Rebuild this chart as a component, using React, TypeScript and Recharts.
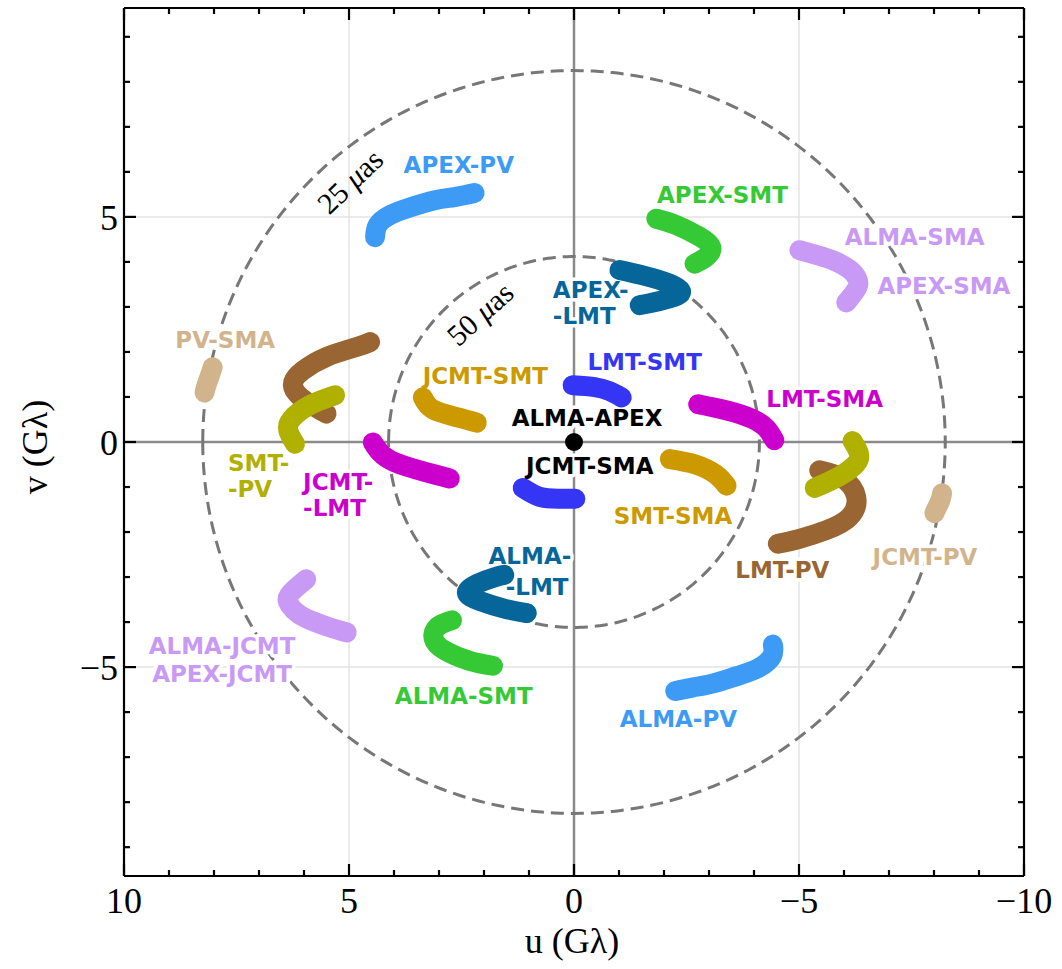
import React from 'react';
import { ComposedChart, XAxis, YAxis, Scatter, ReferenceLine, ReferenceDot } from 'recharts';

// ---------------- data: (u, v) in Gλ ----------------
type P = [number, number];

const APEX_PV: P[] = [[4.42, 4.55], [4.36, 4.82], [4.09, 5.04], [3.65, 5.21], [3.09, 5.37], [2.65, 5.44], [2.21, 5.53]];
const ALMA_PV: P[] = [[-4.42, -4.5], [-4.4, -4.76], [-4.1, -5.02], [-3.62, -5.2], [-3.1, -5.36], [-2.65, -5.45], [-2.25, -5.53]];
const APEX_SMT: P[] = [[-1.83, 4.96], [-2.27, 4.82], [-2.79, 4.56], [-3.05, 4.33], [-2.94, 4.11], [-2.68, 3.96]];
const ALMA_SMT: P[] = [[1.8, -4.97], [2.32, -4.86], [2.87, -4.63], [3.12, -4.36], [3.03, -4.1], [2.71, -3.96]];
const APEX_LMT: P[] = [[-1.01, 3.82], [-1.53, 3.7], [-2.12, 3.52], [-2.38, 3.33], [-2.12, 3.19], [-1.68, 3.08], [-1.46, 3.04]];
const ALMA_LMT: P[] = [[1.05, -3.8], [1.55, -3.7], [2.1, -3.53], [2.38, -3.35], [2.15, -3.15], [1.75, -3.0], [1.55, -2.95]];
const ALMA_SMA: P[] = [[-5.01, 4.26], [-5.4, 4.15], [-5.74, 4.04], [-6.1, 3.85], [-6.28, 3.66], [-6.3, 3.44], [-6.05, 3.1]];
const ALMA_JCMT: P[] = [[5.05, -4.23], [5.42, -4.12], [5.76, -4.0], [6.12, -3.82], [6.32, -3.62], [6.33, -3.4], [5.95, -3.05]];
const PV_SMA: P[] = [[8.03, 1.66], [8.1, 1.45], [8.17, 1.25], [8.21, 1.1]];
const JCMT_PV: P[] = [[-8.18, -1.14], [-8.14, -1.3], [-8.07, -1.45], [-8.01, -1.58]];
const LMT_PV_UP: P[] = [[4.53, 2.22], [4.83, 2.11], [5.5, 1.89], [6.02, 1.59], [6.24, 1.33], [6.16, 1.08], [5.87, 0.85], [5.5, 0.63]];
const LMT_PV_LO: P[] = [[-5.45, -0.63], [-5.97, -0.81], [-6.27, -1.22], [-6.12, -1.67], [-5.6, -1.96], [-5.01, -2.15], [-4.53, -2.26]];
const SMT_PV_UP: P[] = [[5.31, 1.04], [5.87, 0.82], [6.27, 0.52], [6.35, 0.26], [6.2, -0.04]];
const SMT_PV_LO: P[] = [[-6.19, 0.02], [-6.33, -0.25], [-6.27, -0.48], [-5.9, -0.76], [-5.35, -1.02]];
const JCMT_LMT: P[] = [[4.47, -0.01], [4.31, -0.23], [3.98, -0.45], [3.36, -0.65], [2.76, -0.81]];
const LMT_SMA: P[] = [[-4.45, 0.04], [-4.28, 0.3], [-3.95, 0.52], [-3.4, 0.7], [-2.76, 0.84]];
const JCMT_SMT: P[] = [[3.36, 0.99], [3.13, 0.72], [2.6, 0.55], [2.16, 0.43]];
const SMT_SMA: P[] = [[-2.13, -0.38], [-2.7, -0.5], [-3.15, -0.72], [-3.39, -0.97]];
const LMT_SMT_UP: P[] = [[0.03, 1.26], [-0.46, 1.22], [-0.79, 1.13], [-1.06, 0.99]];
const LMT_SMT_LO: P[] = [[1.14, -1.02], [0.76, -1.22], [0.35, -1.26], [-0.03, -1.26]];
const ALMA_APEX: P[] = [[0, 0]];

// radii of the dashed resolution rings (Gλ): 25 μas and 50 μas
const RING_RADII = [8.25, 4.12];

// tick values
const X_TICKS = [10, 9, 8, 7, 6, 5, 4, 3, 2, 1, 0, -1, -2, -3, -4, -5, -6, -7, -8, -9, -10];
const Y_TICKS = [-9, -8, -7, -6, -5, -4, -3, -2, -1, 0, 1, 2, 3, 4, 5, 6, 7, 8, 9];
const GRID_VALUES = [-5, 5];

// baseline labels: text, anchor position (u, v) in Gλ, colour group
const LABEL_TEXT = ['APEX-PV', 'APEX-SMT', 'ALMA-SMA', 'APEX-SMA', 'APEX-\n-LMT', 'PV-SMA', 'JCMT-SMT', 'LMT-SMT', 'ALMA-APEX', 'LMT-SMA', 'JCMT-SMA', 'SMT-\n-PV', 'JCMT-\n-LMT', 'SMT-SMA', 'JCMT-PV', 'LMT-PV', 'ALMA-', '-LMT', 'ALMA-JCMT', 'APEX-JCMT', 'ALMA-SMT', 'ALMA-PV'];
const LABEL_U = [2.56, -3.3, -7.57, -8.22, 0.47, 7.75, 1.97, -1.57, -0.29, -5.57, -0.35, 7.69, 6.02, -2.2, -7.8, -4.63, 0.98, 0.82, 7.82, 7.82, 2.45, -2.32];
const LABEL_V = [6.16, 5.5, 4.56, 3.48, 3.38, 2.27, 1.48, 1.79, 0.53, 0.96, -0.53, -0.47, -0.88, -1.63, -2.54, -2.83, -2.52, -3.22, -4.53, -5.15, -5.63, -6.15];
const LABEL_GROUP = ['pv', 'smt', 'sma', 'sma', 'lmt', 'tan', 'gold', 'blue', 'black', 'mag', 'black', 'olive', 'mag', 'gold', 'tan', 'brown', 'lmt', 'lmt', 'sma', 'sma', 'smt', 'pv'];
const LABEL_ANCHOR = ['middle', 'middle', 'middle', 'middle', 'start', 'middle', 'middle', 'middle', 'middle', 'middle', 'middle', 'start', 'start', 'middle', 'middle', 'middle', 'middle', 'middle', 'middle', 'middle', 'middle', 'middle'];

// ring annotations
const RING_NUM = ['25', '50'];
const RING_U = [4.98, 2.09];
const RING_V = [5.79, 2.85];
const RING_ANGLE = [-44, -42];

// ---------------- styles ----------------
const COLORS: Record<string, string> = {
  pv: '#3d9bf5',
  smt: '#36c936',
  lmt: '#066699',
  sma: '#c99af5',
  tan: '#d2b48c',
  gold: '#cc9900',
  blue: '#3535f5',
  black: '#000000',
  mag: '#cc00cc',
  olive: '#b0b000',
  brown: '#996633',
};

const TRACKS: { pts: P[]; group: string }[] = [
  { pts: APEX_PV, group: 'pv' },
  { pts: ALMA_PV, group: 'pv' },
  { pts: APEX_SMT, group: 'smt' },
  { pts: ALMA_SMT, group: 'smt' },
  { pts: ALMA_SMA, group: 'sma' },
  { pts: ALMA_JCMT, group: 'sma' },
  { pts: PV_SMA, group: 'tan' },
  { pts: JCMT_PV, group: 'tan' },
  { pts: LMT_PV_UP, group: 'brown' },
  { pts: LMT_PV_LO, group: 'brown' },
  { pts: SMT_PV_UP, group: 'olive' },
  { pts: SMT_PV_LO, group: 'olive' },
  { pts: JCMT_LMT, group: 'mag' },
  { pts: LMT_SMA, group: 'mag' },
  { pts: JCMT_SMT, group: 'gold' },
  { pts: SMT_SMA, group: 'gold' },
  { pts: LMT_SMT_UP, group: 'blue' },
  { pts: LMT_SMT_LO, group: 'blue' },
  { pts: APEX_LMT, group: 'lmt' },
  { pts: ALMA_LMT, group: 'lmt' },
];

const SERIF = "'Liberation Serif', 'DejaVu Serif', serif";
const SANS = "'DejaVu Sans', 'Noto Sans', sans-serif";
const LINE_GAP = 26;

const toData = (pts: P[]) => pts.map(([u, v]) => ({ u, v }));

// geometric reference ring (constant radius) sampled for the dashed circle
const ringData = (r: number) =>
  Array.from({ length: 361 }, (_, i) => {
    const a = (i / 360) * 2 * Math.PI;
    return { u: r * Math.cos(a), v: r * Math.sin(a) };
  });

const labelData = LABEL_TEXT.map((text, i) => ({
  u: LABEL_U[i],
  v: LABEL_V[i],
  text,
  color: COLORS[LABEL_GROUP[i]],
  anchor: LABEL_ANCHOR[i],
}));
const ringLabelData = RING_NUM.map((num, i) => ({ u: RING_U[i], v: RING_V[i], num, angle: RING_ANGLE[i] }));

const fmt = (v: number) => (v < 0 ? '\u2212' + Math.abs(v) : String(v));
const isMajor = (v: number) => Math.abs(v) % 5 === 0;

const BottomTick = (p: any) => {
  const v = p.payload.value;
  const len = isMajor(v) ? 12 : 6;
  return (
    <g>
      <line x1={p.x} y1={p.y} x2={p.x} y2={p.y - len} stroke="#000" strokeWidth={2.2} />
      {isMajor(v) && (
        <text x={p.x} y={p.y + 37} textAnchor="middle" fontFamily={SERIF} fontSize={36} fill="#000">
          {fmt(v)}
        </text>
      )}
    </g>
  );
};

const TopTick = (p: any) => {
  const v = p.payload.value;
  const len = isMajor(v) ? 12 : 6;
  return <line x1={p.x} y1={p.y} x2={p.x} y2={p.y + len} stroke="#000" strokeWidth={2.2} />;
};

const LeftTick = (p: any) => {
  const v = p.payload.value;
  const len = isMajor(v) ? 12 : 6;
  return (
    <g>
      <line x1={p.x} y1={p.y} x2={p.x + len} y2={p.y} stroke="#000" strokeWidth={2.2} />
      {isMajor(v) && (
        <text x={p.x - 6} y={p.y + 13} textAnchor="end" fontFamily={SERIF} fontSize={36} fill="#000">
          {fmt(v)}
        </text>
      )}
    </g>
  );
};

const RightTick = (p: any) => {
  const v = p.payload.value;
  const len = isMajor(v) ? 12 : 6;
  return <line x1={p.x} y1={p.y} x2={p.x - len} y2={p.y} stroke="#000" strokeWidth={2.2} />;
};

const XLabel = (props: any) => {
  const vb = props.viewBox;
  return (
    <text x={vb.x + vb.width / 2 - 2} y={vb.y + 77} textAnchor="middle" fontFamily={SERIF} fontSize={36} fill="#000">
      u (Gλ)
    </text>
  );
};

const YLabel = (props: any) => {
  const vb = props.viewBox;
  const x = vb.x + 47;
  const y = vb.y + vb.height / 2 + 5;
  return (
    <text x={x} y={y} transform={`rotate(-90 ${x} ${y})`} textAnchor="middle" fontFamily={SERIF} fontSize={36} fill="#000">
      v (Gλ)
    </text>
  );
};

const LabelShape = (p: any) => {
  const lines: string[] = String(p.payload.text).split('\n');
  return (
    <text
      x={p.cx}
      y={p.cy}
      textAnchor={p.payload.anchor}
      fontFamily={SANS}
      fontWeight="bold"
      fontSize={23}
      fill={p.payload.color}
      stroke="#ffffff"
      strokeWidth={7}
      strokeLinejoin="round"
      paintOrder="stroke"
    >
      {lines.map((l, i) => (
        <tspan key={i} x={p.cx} dy={i === 0 ? '0.36em' : LINE_GAP}>
          {l}
        </tspan>
      ))}
    </text>
  );
};

const RingLabelShape = (p: any) => (
  <text
    x={p.cx}
    y={p.cy}
    dy="0.35em"
    textAnchor="middle"
    fontFamily={SERIF}
    fontSize={30}
    fill="#000"
    transform={`rotate(${p.payload.angle} ${p.cx} ${p.cy})`}
  >
    {p.payload.num + ' '}
    <tspan fontStyle="italic">μ</tspan>
    as
  </text>
);

const NoShape = () => <g />;

export default function App() {
  return (
    <div style={{ position: 'absolute', left: 0, top: 0, width: 1062, height: 969, background: '#fff' }}>
      <ComposedChart width={1062} height={969} margin={{ top: 7, right: 37, bottom: 0, left: 0 }}>
        <XAxis
          xAxisId={0}
          dataKey="u"
          type="number"
          domain={[-10, 10]}
          reversed
          ticks={X_TICKS}
          interval={0}
          allowDataOverflow
          tickSize={0}
          tickMargin={0}
          height={93}
          axisLine={{ stroke: '#000', strokeWidth: 2.2 }}
          tickLine={false}
          tick={(p: any) => <BottomTick {...p} />}
          label={(p: any) => <XLabel {...p} />}
        />
        <XAxis
          xAxisId="top"
          orientation="top"
          dataKey="u"
          type="number"
          domain={[-10, 10]}
          reversed
          ticks={X_TICKS}
          interval={0}
          allowDataOverflow
          tickSize={0}
          tickMargin={0}
          height={1}
          axisLine={{ stroke: '#000', strokeWidth: 2.2 }}
          tickLine={false}
          tick={(p: any) => <TopTick {...p} />}
        />
        <YAxis
          yAxisId={0}
          dataKey="v"
          type="number"
          domain={[-9.64, 9.64]}
          ticks={Y_TICKS}
          interval={0}
          allowDataOverflow
          tickSize={0}
          tickMargin={0}
          width={124}
          axisLine={{ stroke: '#000', strokeWidth: 2.2 }}
          tickLine={false}
          tick={(p: any) => <LeftTick {...p} />}
          label={(p: any) => <YLabel {...p} />}
        />
        <YAxis
          yAxisId="right"
          orientation="right"
          dataKey="v"
          type="number"
          domain={[-9.64, 9.64]}
          ticks={Y_TICKS}
          interval={0}
          allowDataOverflow
          tickSize={0}
          tickMargin={0}
          width={1}
          axisLine={{ stroke: '#000', strokeWidth: 2.2 }}
          tickLine={false}
          tick={(p: any) => <RightTick {...p} />}
        />

        {GRID_VALUES.map((g) => (
          <ReferenceLine key={'gx' + g} x={g} stroke="#e3e3e3" strokeWidth={1.5} />
        ))}
        {GRID_VALUES.map((g) => (
          <ReferenceLine key={'gy' + g} y={g} stroke="#e3e3e3" strokeWidth={1.5} />
        ))}
        <ReferenceLine x={0} stroke="#8a8a8a" strokeWidth={2.5} />
        <ReferenceLine y={0} stroke="#8a8a8a" strokeWidth={2.5} />

        {/* invisible series bound to the mirrored top/right axes so they render */}
        <Scatter xAxisId="top" yAxisId="right" data={toData(ALMA_APEX)} dataKey="v" isAnimationActive={false} shape={NoShape} />

        {RING_RADII.map((r) => (
          <Scatter
            key={'ring' + r}
            data={ringData(r)}
            dataKey="v"
            isAnimationActive={false}
            shape={NoShape}
            line={{ stroke: '#777777', strokeWidth: 3, strokeDasharray: '13 7', fill: 'none' }}
            lineJointType="linear"
          />
        ))}

        <Scatter data={labelData} dataKey="v" isAnimationActive={false} shape={(p: any) => <LabelShape {...p} />} />

        {TRACKS.map((t, i) => (
          <Scatter
            key={'t' + i}
            data={toData(t.pts)}
            dataKey="v"
            isAnimationActive={false}
            shape={NoShape}
            line={{
              stroke: COLORS[t.group],
              strokeWidth: 20,
              strokeLinecap: 'round',
              strokeLinejoin: 'round',
              fill: 'none',
            }}
            lineJointType="natural"
          />
        ))}

        <ReferenceDot x={ALMA_APEX[0][0]} y={ALMA_APEX[0][1]} r={9} fill="#000" stroke="none" />

        <Scatter data={ringLabelData} dataKey="v" isAnimationActive={false} shape={(p: any) => <RingLabelShape {...p} />} />
      </ComposedChart>
    </div>
  );
}
